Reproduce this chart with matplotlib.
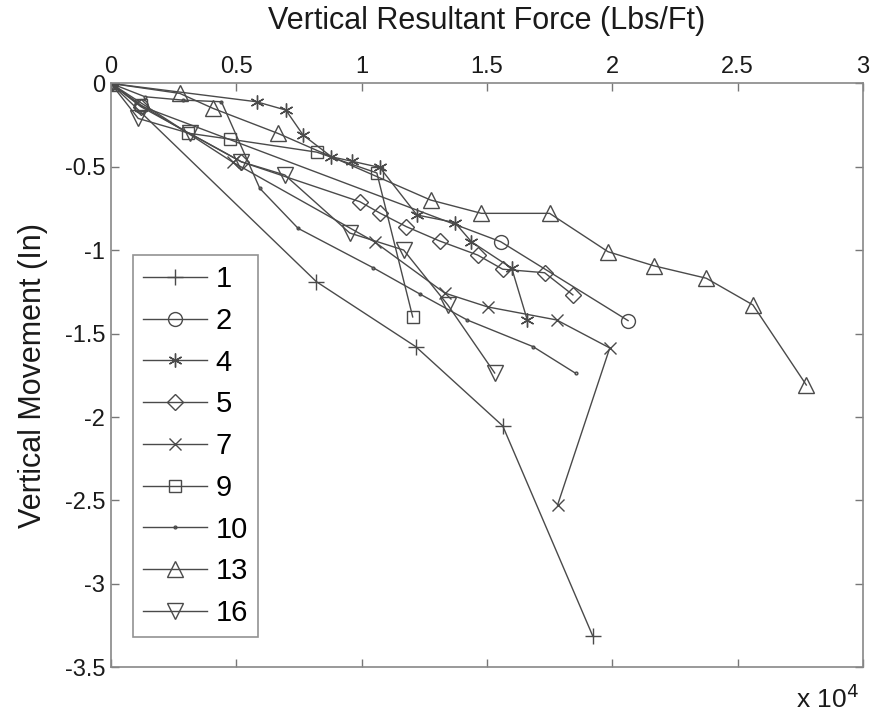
import matplotlib
matplotlib.use("Agg")
from matplotlib import pyplot as plt

plt.rcParams['font.family'] = ['Liberation Sans', 'DejaVu Sans']

# data (force in 1e4 Lbs/Ft, movement in In)
labels = ['1', '2', '4', '5', '7', '9', '10', '13', '16']

x1 = [0, 0.820, 1.216, 1.563, 1.922]
y1 = [0, -1.189, -1.578, -2.053, -3.312]

x2 = [0, 0.120, 1.555, 2.063]
y2 = [0, -0.136, -0.949, -1.422]

x4 = [0, 0.581, 0.698, 0.767, 0.880, 0.960, 1.073, 1.221, 1.372, 1.438, 1.599, 1.661]
y4 = [0, -0.110, -0.160, -0.310, -0.440, -0.466, -0.504, -0.789, -0.834, -0.949, -1.108, -1.418]

x5 = [0, 0.120, 0.520, 0.993, 1.075, 1.179, 1.312, 1.463, 1.563, 1.730, 1.843]
y5 = [0, -0.140, -0.470, -0.709, -0.779, -0.859, -0.945, -1.029, -1.114, -1.135, -1.268]

x7 = [0, 0.486, 1.053, 1.332, 1.503, 1.778, 1.990, 1.782]
y7 = [0, -0.472, -0.951, -1.257, -1.340, -1.418, -1.586, -2.527]

x9 = [0, 0.120, 0.307, 0.474, 0.821, 1.061, 1.204]
y9 = [0, -0.130, -0.298, -0.334, -0.412, -0.537, -1.400]

x10 = [0, 0.136, 0.286, 0.441, 0.594, 0.747, 1.046, 1.232, 1.421, 1.684, 1.854]
y10 = [0, -0.080, -0.100, -0.110, -0.629, -0.869, -1.105, -1.262, -1.418, -1.578, -1.738]

x13 = [0, 0.275, 0.408, 0.667, 1.275, 1.478, 1.750, 1.983, 2.165, 2.375, 2.561, 2.774]
y13 = [0, -0.060, -0.150, -0.300, -0.699, -0.779, -0.779, -1.009, -1.093, -1.168, -1.328, -1.808]

x16 = [0, 0.109, 0.315, 0.521, 0.694, 0.953, 1.168, 1.344, 1.531]
y16 = [0, -0.210, -0.300, -0.470, -0.549, -0.897, -0.999, -1.328, -1.736]

xs = [x1, x2, x4, x5, x7, x9, x10, x13, x16]
ys = [y1, y2, y4, y5, y7, y9, y10, y13, y16]
markers = ['+', 'o', (6, 2, 0), 'D', 'x', 's', '.', '^', 'v']
msizes = [11, 10, 10, 8, 8, 8, 4, 11, 11]

line_col = '#4a4a4a'

fig = plt.figure(figsize=(8.73, 7.19), dpi=100)
ax = fig.add_axes([0.127, 0.072, 0.8615, 0.812])

for x, y, lab, m, ms in zip(xs, ys, labels, markers, msizes):
    ax.plot(x, y, color=line_col, lw=1.0, marker=m, markersize=ms,
            markerfacecolor='none', markeredgecolor=line_col,
            markeredgewidth=1.0, label=lab)

ax.set_xlim(0, 3)
ax.set_ylim(-3.5, 0)
ax.set_xticks([0, 0.5, 1, 1.5, 2, 2.5, 3])
ax.set_xticklabels(['0', '0.5', '1', '1.5', '2', '2.5', '3'])
ax.set_yticks([0, -0.5, -1, -1.5, -2, -2.5, -3, -3.5])
ax.set_yticklabels(['0', '-0.5', '-1', '-1.5', '-2', '-2.5', '-3', '-3.5'])

ax.xaxis.tick_top()
ax.xaxis.set_label_position('top')
ax.tick_params(direction='in', length=6, width=1, colors='#777777',
               labelcolor='#1a1a1a', labelsize=17, top=True, bottom=True,
               left=True, right=True, pad=4)
for s in ax.spines.values():
    s.set_color('#888888')
    s.set_linewidth(1.2)

ax.set_xlabel('Vertical Resultant Force (Lbs/Ft)', fontsize=22, color='#1a1a1a', labelpad=19)
ax.set_ylabel('Vertical Movement (In)', fontsize=22, color='#1a1a1a', labelpad=12)

leg = ax.legend(loc='upper left', bbox_to_anchor=(0.029, 0.706), fontsize=21,
                frameon=True, fancybox=False, edgecolor='#777777',
                handlelength=2.2, handletextpad=0.3, labelspacing=0.47,
                borderpad=0.35, borderaxespad=0)
leg.get_frame().set_linewidth(1.2)

fig.text(0.948, 0.028, r'x 10$^4$', fontsize=19, color='#1a1a1a', ha='center', va='center')

fig.savefig('out.png', dpi=100)
